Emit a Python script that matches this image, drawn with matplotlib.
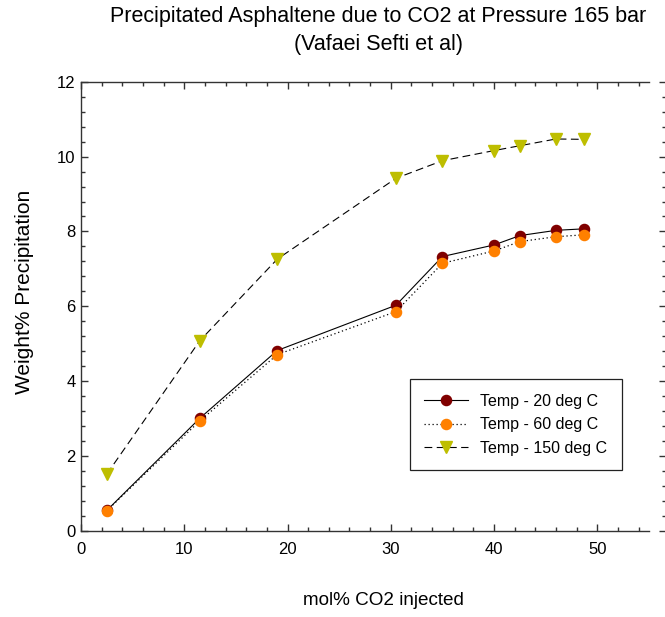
import matplotlib
matplotlib.use("Agg")
import matplotlib.pyplot as plt
from matplotlib.ticker import MultipleLocator

plt.rcParams['font.family'] = ['Liberation Sans', 'DejaVu Sans']

# mol% CO2 injected and weight% precipitated asphaltene at 165 bar
co2_mol = [2.5, 11.5, 19.0, 30.5, 35.0, 40.0, 42.5, 46.0, 48.7]
temp_20 = [0.55, 3.01, 4.82, 6.03, 7.33, 7.64, 7.89, 8.03, 8.07]
temp_60 = [0.54, 2.94, 4.71, 5.86, 7.15, 7.48, 7.73, 7.86, 7.91]
temp_150 = [1.52, 5.08, 7.26, 9.42, 9.89, 10.16, 10.29, 10.47, 10.46]
labels = ['Temp - 20 deg C', 'Temp - 60 deg C', 'Temp - 150 deg C']

fig = plt.figure(figsize=(6.65, 6.17), dpi=100)
ax = fig.add_axes([0.1218, 0.1394, 0.8541, 0.7282])

ax.plot(co2_mol, temp_20, color='black', lw=0.8, marker='o', ms=7.3,
        mfc='#800000', mec='#800000', label=labels[0])
ax.plot(co2_mol, temp_60, color='black', lw=0.9, ls=(0, (1, 2.2)), marker='o', ms=7.3,
        mfc='#FF8000', mec='#FF8000', label=labels[1])
ax.plot(co2_mol, temp_150, color='black', lw=0.8, ls=(0, (7, 4)), marker='v', ms=8,
        mfc='#BEBE00', mec='#BEBE00', label=labels[2])

ax.set_xlim(0, 55)
ax.set_ylim(0, 12)
ax.xaxis.set_major_locator(MultipleLocator(10))
ax.xaxis.set_minor_locator(MultipleLocator(2))
ax.yaxis.set_major_locator(MultipleLocator(2))
ax.yaxis.set_minor_locator(MultipleLocator(0.4))

# right axis sits apart from the box, near the figure edge
ax.spines['right'].set_position(('axes', 1.03))
ax.spines['right'].set_color('none')
for side in ['left', 'bottom', 'top']:
    ax.spines[side].set_color('#333333')
    ax.spines[side].set_linewidth(1.0)

ax.tick_params(which='both', direction='in', top=True, right=True, color='#333333')
ax.tick_params(which='major', length=5, width=1.0)
ax.tick_params(which='minor', length=2.8, width=1.0)
ax.tick_params(axis='y', which='major', labelsize=12, pad=4, labelright=False)
ax.tick_params(axis='x', which='major', labelsize=12, pad=8)

leg = ax.legend(loc='upper left', bbox_to_anchor=(0.579, 0.338), borderaxespad=0,
                fontsize=11.5, handlelength=2.75, handletextpad=0.75, labelspacing=0.55,
                borderpad=0.9, fancybox=False, framealpha=1, edgecolor='#222222')
leg.get_frame().set_linewidth(0.9)

fig.text(0.569, 0.974, 'Precipitated Asphaltene due to CO2 at Pressure 165 bar',
         ha='center', va='center', fontsize=15.5)
fig.text(0.569, 0.928, '(Vafaei Sefti et al)', ha='center', va='center', fontsize=15.5)
fig.text(0.576, 0.026, 'mol% CO2 injected', ha='center', va='center', fontsize=13.6)
fig.text(0.037, 0.527, 'Weight% Precipitation', ha='center', va='center',
         rotation=90, fontsize=15)

fig.savefig('out.png', dpi=100)
